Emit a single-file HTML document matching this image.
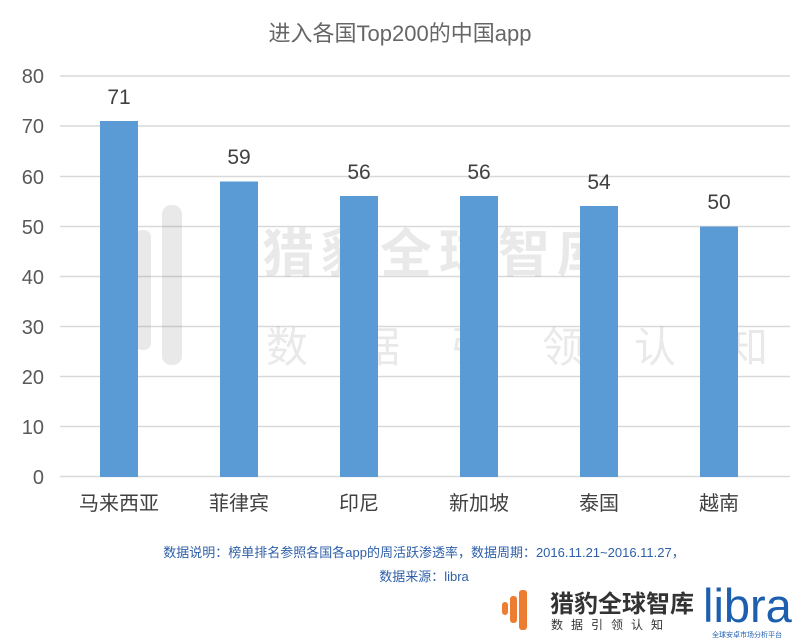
<!DOCTYPE html>
<html><head><meta charset="utf-8"><style>
body{margin:0;background:#fff;}
svg{display:block;font-family:"Liberation Sans","Noto Sans CJK SC",sans-serif;}
</style></head><body>
<svg width="800" height="642" viewBox="0 0 800 642" xmlns="http://www.w3.org/2000/svg">
<rect width="800" height="642" fill="#fff"/>
<text x="400" y="41" text-anchor="middle" font-size="22" fill="#666">进入各国Top200的中国app</text>
<g stroke="#d9d9d9" stroke-width="1.5">
<line x1="60" x2="790" y1="76" y2="76"/><line x1="60" x2="790" y1="126" y2="126"/>
<line x1="60" x2="790" y1="176.5" y2="176.5"/><line x1="60" x2="790" y1="226.5" y2="226.5"/>
<line x1="60" x2="790" y1="276.5" y2="276.5"/><line x1="60" x2="790" y1="326.5" y2="326.5"/>
<line x1="60" x2="790" y1="376.5" y2="376.5"/><line x1="60" x2="790" y1="426.5" y2="426.5"/>
<line x1="60" x2="790" y1="476.5" y2="476.5"/>
</g>
<g font-size="20" fill="#595959" text-anchor="end">
<text x="44" y="83">80</text><text x="44" y="133">70</text><text x="44" y="184">60</text>
<text x="44" y="234">50</text><text x="44" y="284">40</text><text x="44" y="334">30</text>
<text x="44" y="384">20</text><text x="44" y="434">10</text><text x="44" y="484">0</text>
</g>
<g opacity="0.12" fill="#555">
<rect x="110" y="260" width="14" height="70" rx="6"/><rect x="135" y="230" width="16" height="120" rx="7"/><rect x="162" y="205" width="20" height="160" rx="9"/>
<text x="262" y="272" font-size="52" font-weight="bold" letter-spacing="7">猎豹全球智库</text>
<text x="266" y="362" font-size="42" letter-spacing="50">数据引领认知</text>
</g>
<g fill="#5b9bd5">
<rect x="100" y="121" width="38" height="356"/>
<rect x="220" y="181.5" width="38" height="295.5"/>
<rect x="340" y="196" width="38" height="281"/>
<rect x="460" y="196" width="38" height="281"/>
<rect x="580" y="206" width="38" height="271"/>
<rect x="700" y="226.5" width="38" height="250.5"/>
</g>
<g font-size="21" fill="#404040" text-anchor="middle">
<text x="119" y="104">71</text><text x="239" y="164">59</text><text x="359" y="179">56</text>
<text x="479" y="179">56</text><text x="599" y="189">54</text><text x="719" y="209">50</text>
</g>
<g font-size="20" fill="#404040" text-anchor="middle">
<text x="119" y="510">马来西亚</text><text x="239" y="510">菲律宾</text><text x="359" y="510">印尼</text>
<text x="479" y="510">新加坡</text><text x="599" y="510">泰国</text><text x="719" y="510">越南</text>
</g>
<g font-size="13" fill="#2e5fa8" text-anchor="middle">
<text x="424" y="557">数据说明：榜单排名参照各国各app的周活跃渗透率，数据周期：2016.11.21~2016.11.27，</text>
<text x="424" y="581">数据来源：libra</text>
</g>
<g fill="#ed7d31">
<rect x="502" y="602" width="6" height="13" rx="3"/><rect x="510" y="596" width="7" height="27" rx="3"/><rect x="519" y="590" width="8" height="40" rx="3"/>
</g>
<text x="550" y="612" font-size="24" font-weight="bold" fill="#333">猎豹全球智库</text>
<text x="551" y="629" font-size="12" fill="#333" letter-spacing="8">数据引领认知</text>
<text x="703" y="622" font-size="47" fill="#1d5fae">libra</text>
<text x="712" y="637" font-size="7" fill="#1d5fae">全球安卓市场分析平台</text>
</svg>
</body></html>
